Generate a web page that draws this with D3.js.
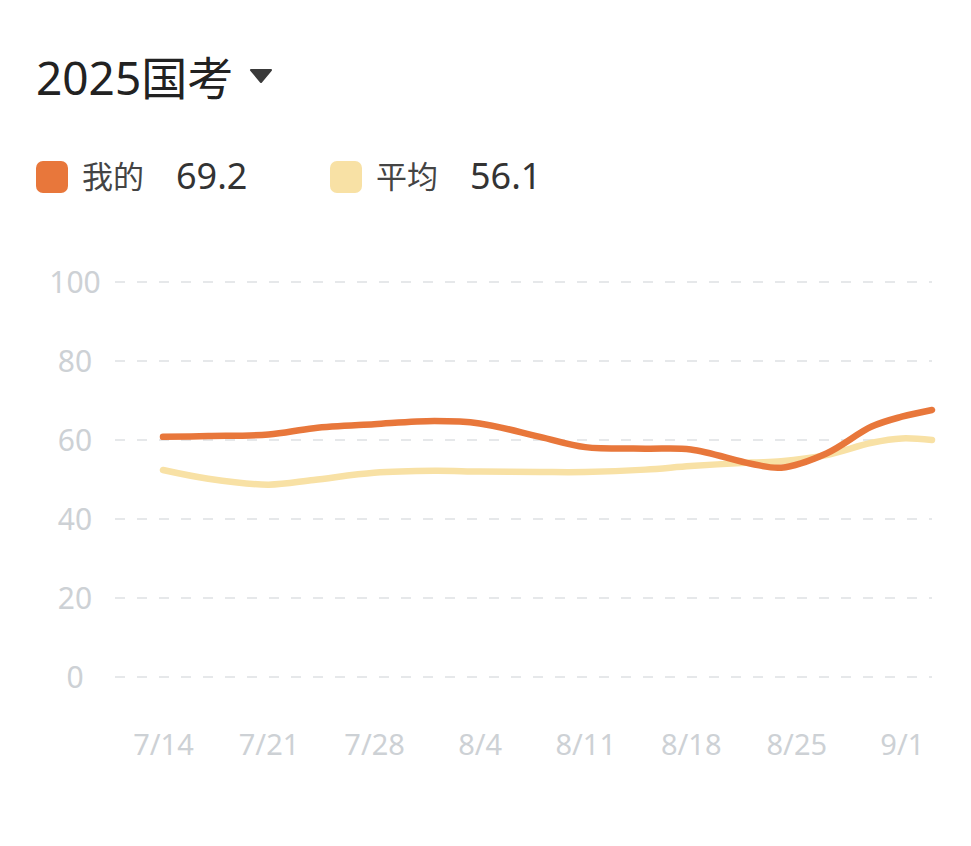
<!DOCTYPE html>
<html>
<head>
<meta charset="utf-8">
<script src="https://cdn.jsdelivr.net/npm/d3@7/dist/d3.min.js"></script>
<style>
  html, body { margin: 0; padding: 0; background: #ffffff; }
  svg { display: block; }
</style>
</head>
<body>
<svg id="chart" width="971" height="846"></svg>
<script>
// ---- data ----
const title = "2025国考";
const seriesNames = ["我的", "平均"];
const seriesTotals = ["69.2", "56.1"];
const dates = ["7/14","7/17","7/21","7/24","7/28","8/1","8/4","8/8","8/11","8/15","8/18","8/22","8/24","8/27","8/30","9/1","9/3"];
const mine = [60.8, 61.0, 61.4, 63.0, 64.0, 64.8, 64.2, 60.8, 58.2, 57.8, 57.6, 54.0, 53.0, 56.6, 63.4, 65.9, 67.6];
const average = [52.4, 50.2, 48.7, 49.9, 51.7, 52.2, 52.0, 51.9, 51.9, 52.5, 53.4, 54.3, 54.6, 56.2, 59.3, 60.4, 60.0];
const xTickLabels = ["7/14","7/21","7/28","8/4","8/11","8/18","8/25","9/1"];
const yTicks = [0, 20, 40, 60, 80, 100];

// ---- setup ----
const svg = d3.select("#chart");
const parse = d3.timeParse("%Y/%m/%d");
const toDate = s => parse("2025/" + s);
const fmt = d3.timeFormat("%-m/%-d");

const colors = { mine: "#E8773B", avg: "#F8E1A5" };
const font = "'Noto Sans', 'Noto Sans CJK SC', sans-serif";

const x = d3.scaleTime()
  .domain([toDate(dates[0]), toDate(dates[dates.length - 1])])
  .range([163, 932]);
const y = d3.scaleLinear().domain([0, 100]).range([677, 282]);

// ---- title ----
svg.append("text")
  .attr("x", 36).attr("y", 95)
  .attr("font-family", font).attr("font-size", 46)
  .attr("fill", "#222222")
  .text(title);
svg.append("path")
  .attr("d", "M251,70 L271,70 L261,82 Z")
  .attr("fill", "#3a3a3a")
  .attr("stroke", "#3a3a3a").attr("stroke-width", 2).attr("stroke-linejoin", "round");

// ---- legend ----
const legendItems = [
  { name: seriesNames[0], total: seriesTotals[0], color: colors.mine, x: 36 },
  { name: seriesNames[1], total: seriesTotals[1], color: colors.avg, x: 330 }
];
const lg = svg.append("g");
legendItems.forEach(it => {
  lg.append("rect")
    .attr("x", it.x).attr("y", 161).attr("width", 32).attr("height", 32)
    .attr("rx", 7).attr("fill", it.color);
  lg.append("text")
    .attr("x", it.x + 46).attr("y", 188)
    .attr("font-family", font).attr("font-size", 31)
    .attr("fill", "#444444").text(it.name);
  lg.append("text")
    .attr("x", it.x + 140).attr("y", 189)
    .attr("font-family", font).attr("font-size", 36)
    .attr("fill", "#333333").text(it.total);
});

// ---- grid + y labels ----
const grid = svg.append("g");
grid.selectAll("line").data(yTicks).join("line")
  .attr("x1", 115).attr("x2", 932)
  .attr("y1", d => y(d)).attr("y2", d => y(d))
  .attr("stroke", "#E6E8EA").attr("stroke-width", 2)
  .attr("stroke-dasharray", "10,12");
grid.selectAll("text").data(yTicks).join("text")
  .attr("x", 75).attr("y", d => y(d))
  .attr("dy", "0.36em")
  .attr("text-anchor", "middle")
  .attr("font-family", font).attr("font-size", 30)
  .attr("fill", "#CDD1D5")
  .text(d => d);

// ---- x axis ----
const xAxis = d3.axisBottom(x)
  .tickValues(xTickLabels.map(toDate))
  .tickFormat(fmt)
  .tickSize(0)
  .tickPadding(0);
const xg = svg.append("g").attr("transform", "translate(0,733)").call(xAxis);
xg.select(".domain").remove();
xg.selectAll("text")
  .attr("font-family", font).attr("font-size", 29)
  .attr("fill", "#CDD1D5")
  .attr("dy", "0.75em");

// ---- lines ----
const line = d3.line()
  .x(d => x(d.date))
  .y(d => y(d.v))
  .curve(d3.curveCatmullRom.alpha(0.5));

const avgData = dates.map((s, i) => ({ date: toDate(s), v: average[i] }));
const mineData = dates.map((s, i) => ({ date: toDate(s), v: mine[i] }));

svg.append("path").datum(avgData)
  .attr("d", line).attr("fill", "none")
  .attr("stroke", colors.avg).attr("stroke-width", 6.5)
  .attr("stroke-linecap", "round").attr("stroke-linejoin", "round");
svg.append("path").datum(mineData)
  .attr("d", line).attr("fill", "none")
  .attr("stroke", colors.mine).attr("stroke-width", 6.5)
  .attr("stroke-linecap", "round").attr("stroke-linejoin", "round");
</script>
</body>
</html>
